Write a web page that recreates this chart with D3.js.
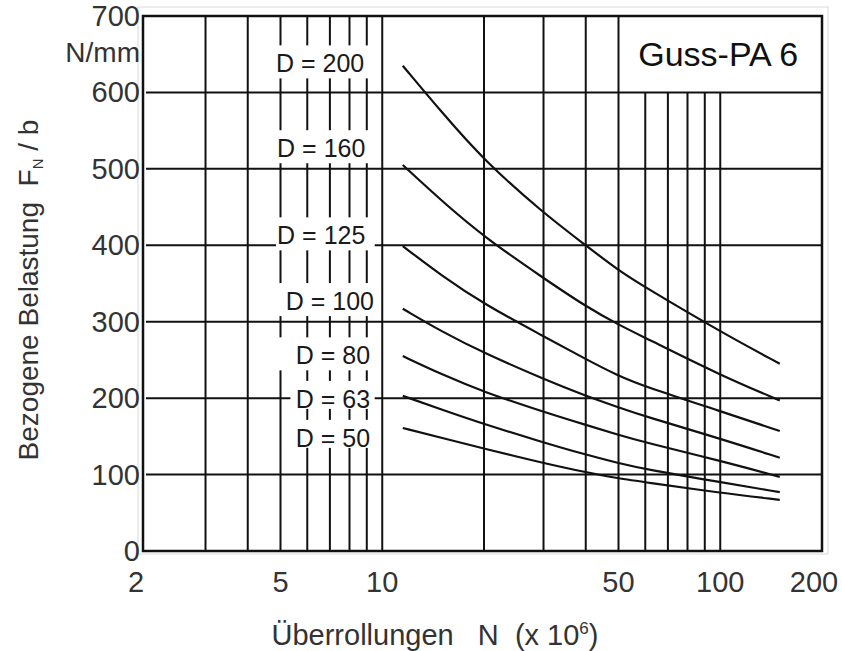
<!DOCTYPE html>
<html>
<head>
<meta charset="utf-8">
<script src="https://cdn.jsdelivr.net/npm/d3@7/dist/d3.min.js"></script>
<style>
body { margin: 0; background: #fff; }
text { font-family: "Liberation Sans", Arial, sans-serif; }
</style>
</head>
<body>
<div id="chart-area"></div>
<script>
/*
*    Bezogene Belastung über Überrollungen - Guss-PA 6
*/

// Values (N in 10^6, load in N/mm)
var cycles = [11.5, 15, 20, 30, 40, 50, 60, 100, 150];
var loadD200 = [635, 574, 511, 442, 400, 367, 345, 287, 245];
var loadD160 = [505, 458, 411, 357, 320, 296, 279, 230, 197];
var loadD125 = [399, 360, 323, 281, 251, 229, 215, 183, 157];
var loadD100 = [317, 287, 259, 225, 203, 188, 176, 147, 122];
var loadD80  = [255, 231, 208, 182, 165, 152, 142, 118, 97];
var loadD63  = [203, 185, 166, 142, 126, 115, 107, 90, 77];
var loadD50  = [161, 148, 134, 115, 103, 95, 90, 76, 67];

var diameters = [200, 160, 125, 100, 80, 63, 50];
var labelN    = [6.55, 6.6, 6.6, 7.0, 7.15, 7.15, 7.15];   // label centre
var labelLoad = [638, 527, 413, 327, 256, 199, 148];
var boxFromN  = [4.85, 4.85, 4.85, 4.85, 4.85, 5.35, 5.35];

var xTicks = [2, 5, 10, 50, 100, 200];
var yTicks = [0, 100, 200, 300, 400, 500, 600, 700];
var xGrid = [3, 4, 5, 6, 7, 8, 9, 10, 20, 30, 40, 50];
var xGridShort = [60, 70, 80, 90, 100];   // stop under the material box
var yGrid = [100, 200, 300, 400, 500, 600];

var series = [loadD200, loadD160, loadD125, loadD100, loadD80, loadD63, loadD50];

var width = 842, height = 651;

var svg = d3.select("#chart-area")
    .append("svg")
        .attr("width", width)
        .attr("height", height);

svg.append("rect")
    .attr("width", width)
    .attr("height", height)
    .attr("fill", "#fff");

// Scales
var x = d3.scaleLog()
    .domain([2, 200])
    .range([146, 822]);

var y = d3.scaleLinear()
    .domain([0, 700])
    .range([551, 16]);

// faint outer frame
svg.append("rect")
    .attr("x", 138)
    .attr("y", 7)
    .attr("width", 690)
    .attr("height", 547)
    .attr("fill", "none")
    .attr("stroke", "#d9d9d9")
    .attr("stroke-width", 1);

var g = svg.append("g");

// Grid
g.selectAll(".vgrid")
    .data(xGrid)
    .enter().append("line")
        .attr("x1", function(d){ return x(d); })
        .attr("x2", function(d){ return x(d); })
        .attr("y1", y(0))
        .attr("y2", y(700))
        .attr("stroke", "#111")
        .attr("stroke-width", 2);

g.selectAll(".vgrid-short")
    .data(xGridShort)
    .enter().append("line")
        .attr("x1", function(d){ return x(d); })
        .attr("x2", function(d){ return x(d); })
        .attr("y1", y(0))
        .attr("y2", y(600))
        .attr("stroke", "#111")
        .attr("stroke-width", 2);

g.selectAll(".hgrid")
    .data(yGrid)
    .enter().append("line")
        .attr("x1", x(2))
        .attr("x2", x(200))
        .attr("y1", function(d){ return y(d); })
        .attr("y2", function(d){ return y(d); })
        .attr("stroke", "#111")
        .attr("stroke-width", 2);

// Frame
g.append("rect")
    .attr("x", 143)
    .attr("y", y(700))
    .attr("width", x(200) - 143)
    .attr("height", y(0) - y(700))
    .attr("fill", "none")
    .attr("stroke", "#111")
    .attr("stroke-width", 2.5);

// White boxes behind the D labels
g.selectAll(".labelbox")
    .data(diameters)
    .enter().append("rect")
        .attr("x", function(d, i){ return x(boxFromN[i]); })
        .attr("y", function(d, i){ return y(labelLoad[i]) - 18; })
        .attr("width", function(d, i){ return x(9.5) - x(boxFromN[i]); })
        .attr("height", function(d, i){ return i > 4 ? 28 : 33; })
        .attr("fill", "#fff");

// Curves
var line = d3.line()
    .x(function(d){ return x(d[0]); })
    .y(function(d){ return y(d[1]); })
    .curve(d3.curveBasis);

g.selectAll(".curve")
    .data(series)
    .enter().append("path")
        .attr("d", function(s){
            return line(cycles.map(function(n, i){ return [n, s[i]]; }));
        })
        .attr("fill", "none")
        .attr("stroke", "#111")
        .attr("stroke-width", 2.2);

// D labels
g.selectAll(".dlabel")
    .data(diameters)
    .enter().append("text")
        .attr("x", function(d, i){ return x(labelN[i]); })
        .attr("y", function(d, i){ return y(labelLoad[i]) + 9; })
        .attr("text-anchor", "middle")
        .attr("font-size", "25px")
        .attr("fill", "#1a1a1a")
        .text(function(d){ return "D = " + d; });

// Material box
g.append("text")
    .attr("x", (x(50) + x(200)) / 2 - 2)
    .attr("y", (y(700) + y(600)) / 2 + 12)
    .attr("text-anchor", "middle")
    .attr("font-size", "34px")
    .attr("fill", "#111")
    .text("Guss-PA 6");

// Y tick labels
svg.selectAll(".ytick")
    .data(yTicks)
    .enter().append("text")
        .attr("x", 140)
        .attr("y", function(d){ return y(d) + 10; })
        .attr("text-anchor", "end")
        .attr("font-size", "29px")
        .attr("fill", "#333")
        .text(function(d){ return d; });

svg.append("text")
    .attr("x", 140)
    .attr("y", 62)
    .attr("text-anchor", "end")
    .attr("font-size", "28px")
    .attr("fill", "#333")
    .text("N/mm");

// X tick labels (end labels sit a little inside)
svg.selectAll(".xtick")
    .data(xTicks)
    .enter().append("text")
        .attr("x", function(d, i){
            var nudge = i === 0 ? -10 : (i === xTicks.length - 1 ? -8 : 0);
            return x(d) + nudge;
        })
        .attr("y", 592)
        .attr("text-anchor", "middle")
        .attr("font-size", "29px")
        .attr("fill", "#333")
        .text(function(d){ return d; });

// X label
var xLabel = svg.append("text")
    .attr("x", 435)
    .attr("y", 645)
    .attr("text-anchor", "middle")
    .attr("font-size", "29px")
    .attr("fill", "#333")
    .style("white-space", "pre");
xLabel.append("tspan").text("Überrollungen   N  (x 10");
xLabel.append("tspan")
    .attr("font-size", "17px")
    .attr("dy", -11)
    .text("6");
xLabel.append("tspan")
    .attr("dy", 11)
    .text(")");

// Y label
var yLabel = svg.append("text")
    .attr("transform", "translate(38, 290) rotate(-90)")
    .attr("text-anchor", "middle")
    .attr("font-size", "28px")
    .attr("fill", "#333")
    .style("white-space", "pre");
yLabel.append("tspan").text("Bezogene Belastung  F");
yLabel.append("tspan")
    .attr("font-size", "15px")
    .attr("dy", 5)
    .text("N");
yLabel.append("tspan")
    .attr("dy", -5)
    .text(" / b");
</script>
</body>
</html>
